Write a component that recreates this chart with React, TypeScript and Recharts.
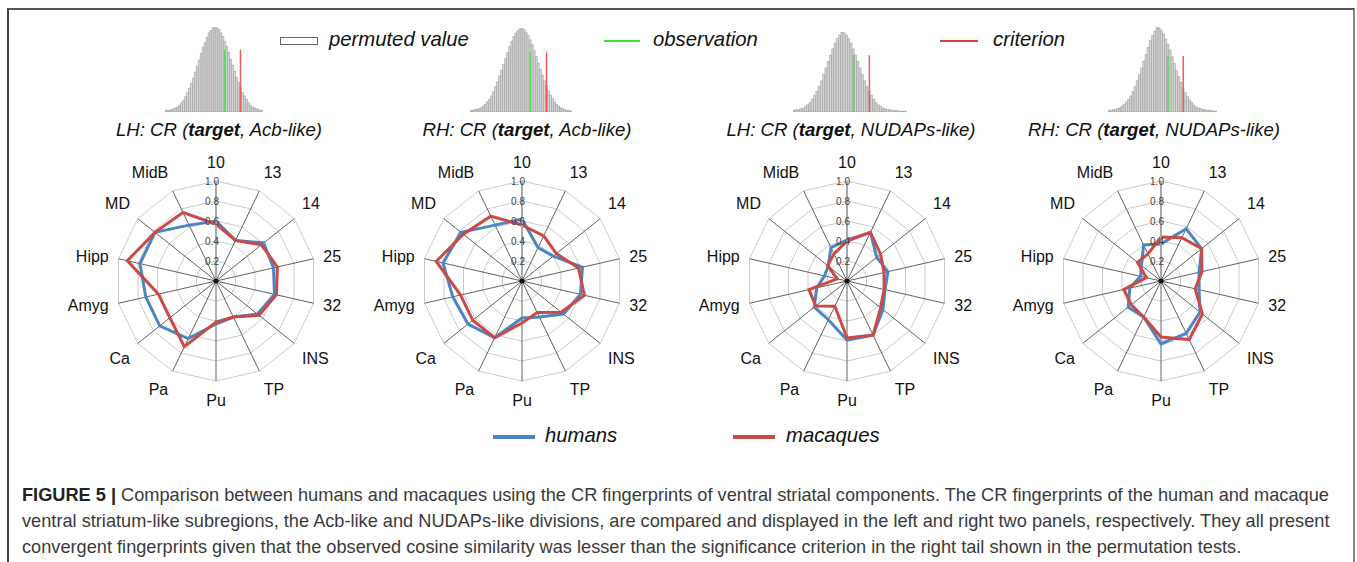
import React from "react";
import {
  RadarChart,
  Radar,
  PolarGrid,
  PolarAngleAxis,
  PolarRadiusAxis,
  BarChart,
  Bar,
  XAxis,
  YAxis,
  ReferenceLine,
} from "recharts";

// ---- data ----
const regions = ["10", "13", "14", "25", "32", "INS", "TP", "Pu", "Pa", "Ca", "Amyg", "Hipp", "MD", "MidB"];

const lhAcbHumans = [0.6, 0.45, 0.61, 0.59, 0.6, 0.53, 0.4, 0.43, 0.64, 0.72, 0.72, 0.78, 0.78, 0.62];
const lhAcbMacaques = [0.57, 0.45, 0.58, 0.63, 0.62, 0.55, 0.4, 0.41, 0.73, 0.59, 0.59, 0.91, 0.78, 0.76];
const rhAcbHumans = [0.62, 0.37, 0.4, 0.62, 0.6, 0.53, 0.4, 0.37, 0.63, 0.69, 0.71, 0.81, 0.78, 0.62];
const rhAcbMacaques = [0.56, 0.5, 0.44, 0.58, 0.64, 0.5, 0.35, 0.42, 0.63, 0.63, 0.63, 0.88, 0.75, 0.72];
const lhNudHumans = [0.41, 0.54, 0.38, 0.42, 0.39, 0.46, 0.6, 0.59, 0.43, 0.42, 0.31, 0.23, 0.24, 0.37];
const lhNudMacaques = [0.4, 0.54, 0.43, 0.38, 0.38, 0.43, 0.6, 0.57, 0.28, 0.4, 0.39, 0.1, 0.25, 0.3];
const rhNudHumans = [0.37, 0.58, 0.52, 0.39, 0.39, 0.5, 0.58, 0.63, 0.4, 0.42, 0.32, 0.21, 0.25, 0.4];
const rhNudMacaques = [0.44, 0.48, 0.52, 0.42, 0.35, 0.53, 0.65, 0.56, 0.4, 0.38, 0.38, 0.15, 0.3, 0.3];

// permutation histograms (relative counts, peak = 100)
const permLhAcb = [2, 2, 2, 3, 4, 5, 6, 8, 11, 14, 18, 23, 28, 34, 40, 47, 54, 61, 69, 76, 82, 88, 93, 96, 99, 100, 99, 97, 93, 89, 83, 77, 70, 62, 55, 48, 41, 35, 29, 23, 19, 15, 11, 8, 6, 5, 4, 3, 2, 2];
const permRhAcb = [2, 2, 3, 3, 4, 5, 7, 9, 12, 15, 19, 24, 30, 36, 43, 50, 57, 64, 71, 78, 84, 90, 94, 97, 99, 100, 98, 95, 91, 86, 80, 73, 66, 58, 51, 44, 37, 31, 25, 20, 16, 12, 9, 7, 5, 4, 3, 2, 2, 1];
const permLhNud = [2, 3, 3, 4, 5, 7, 9, 12, 16, 21, 26, 32, 39, 47, 55, 63, 71, 79, 86, 92, 96, 100, 99, 96, 92, 86, 79, 71, 63, 55, 47, 39, 32, 26, 21, 16, 12, 9, 7, 5, 4, 3, 3, 2, 2, 2, 1, 1, 1, 1];
const permRhNud = [2, 2, 3, 3, 4, 5, 7, 9, 12, 15, 19, 24, 30, 37, 44, 52, 60, 68, 76, 84, 90, 95, 100, 99, 96, 92, 86, 80, 73, 65, 57, 49, 42, 35, 29, 23, 18, 14, 11, 8, 6, 5, 4, 3, 3, 2, 2, 2, 1, 1];
const observationBins = [30, 29, 26, 27];
const criterionBins = [38, 37, 33, 34];
const markerHeights = [73, 71, 71, 66];

const radiusTicks = [0, 0.2, 0.4, 0.6, 0.8, 1.0];

const BLUE = "#4a85c4";
const RED = "#cc4a45";
const FONT = "'Liberation Sans', Arial, sans-serif";

// chart-internal centre of each radar
const RC_X = 160;
const RC_Y = 150;
const OUTER = 100;

function AngleTick(props: any) {
  const { x, y, payload } = props;
  const dx = x - RC_X;
  const dy = y - RC_Y;
  const len = Math.hypot(dx, dy) || 1;
  const ux = dx / len;
  const uy = dy / len;
  const tx = RC_X + ux * 110;
  const ty = RC_Y + uy * 110 + (Math.abs(uy) > 0.4 ? 9 * Math.sign(uy) : 0);
  const anchor = ux > 0.15 ? "start" : ux < -0.15 ? "end" : "middle";
  return (
    <text x={tx} y={ty} textAnchor={anchor} dominantBaseline="central" fontSize={16} fill="#111" fontFamily={FONT}>
      {payload.value}
    </text>
  );
}

function RadiusTick(props: any) {
  const { x, y, payload } = props;
  if (payload.value === 0) {
    return <circle cx={x} cy={y} r={2.5} fill="#111" />;
  }
  return (
    <text x={x - 4} y={y} textAnchor="middle" dominantBaseline="central" fontSize={10} fill="#444" fontFamily={FONT}>
      {Number(payload.value).toFixed(1)}
    </text>
  );
}

function Fingerprint({ left, humans, macaques }: { left: number; humans: number[]; macaques: number[] }) {
  const data = regions.map((r, i) => ({ region: r, humans: humans[i], macaques: macaques[i] }));
  return (
    <div style={{ position: "absolute", left: left - RC_X, top: 280.7 - RC_Y }}>
      <RadarChart width={320} height={300} cx={RC_X} cy={RC_Y} outerRadius={OUTER} data={data} startAngle={90} endAngle={-270}>
        <PolarGrid
          gridType="polygon"
          radialLines={false}
          polarRadius={radiusTicks.slice(1).map((t) => t * OUTER)}
          stroke="#cbcbcb"
          strokeWidth={1}
        />
        <PolarGrid gridType="polygon" polarRadius={[]} stroke="#505050" strokeWidth={0.9} />
        <PolarAngleAxis dataKey="region" tick={AngleTick} tickLine={false} axisLine={false} />
        <PolarRadiusAxis
          radiusAxisId="lower"
          angle={-90}
          domain={[0, 1]}
          tick={false}
          tickLine={false}
          axisLine={{ stroke: "#a8a8a8", strokeWidth: 2 }}
        />
        <PolarRadiusAxis
          angle={90}
          type="number"
          domain={[0, 1]}
          ticks={radiusTicks}
          tickCount={radiusTicks.length}
          tick={RadiusTick}
          tickLine={false}
          axisLine={{ stroke: "#a8a8a8", strokeWidth: 2 }}
        />
        <Radar dataKey="humans" stroke={BLUE} strokeWidth={3} fill="none" fillOpacity={0} dot={false} isAnimationActive={false} />
        <Radar dataKey="macaques" stroke={RED} strokeWidth={3} fill="none" fillOpacity={0} dot={false} isAnimationActive={false} />
      </RadarChart>
    </div>
  );
}

function Histogram({
  left,
  top,
  width,
  height,
  counts,
  obs,
  crit,
  mark,
}: {
  left: number;
  top: number;
  width: number;
  height: number;
  counts: number[];
  obs: number;
  crit: number;
  mark: number;
}) {
  const data = counts.map((c, i) => ({ bin: i, count: c }));
  return (
    <div style={{ position: "absolute", left, top }}>
      <BarChart width={width} height={height} data={data} margin={{ top: 0, right: 0, bottom: 0, left: 0 }} barCategoryGap={0} barGap={0}>
        <XAxis dataKey="bin" hide />
        <YAxis hide domain={[0, 100]} />
        <Bar dataKey="count" fill="#dadada" stroke="#8c8c8c" strokeWidth={0.5} isAnimationActive={false} />
        <ReferenceLine segment={[{ x: obs, y: 0 }, { x: obs, y: mark }]} stroke="#55dd55" strokeWidth={1.5} />
        <ReferenceLine segment={[{ x: crit, y: 0 }, { x: crit, y: mark }]} stroke="#f05a5a" strokeWidth={1.5} />
      </BarChart>
    </div>
  );
}

const titleStyle: React.CSSProperties = {
  position: "absolute",
  top: 119,
  fontFamily: FONT,
  fontStyle: "italic",
  fontSize: 18.6,
  color: "#111",
  whiteSpace: "nowrap",
  transform: "translateX(-50%)",
};

const legendText: React.CSSProperties = {
  position: "absolute",
  fontFamily: FONT,
  fontStyle: "italic",
  fontSize: 20.3,
  color: "#111",
  whiteSpace: "nowrap",
};

function Title({ x, hemi, div }: { x: number; hemi: string; div: string }) {
  return (
    <div style={{ ...titleStyle, left: x }}>
      {hemi}: CR (<b>target</b>, {div})
    </div>
  );
}

export default function App() {
  return (
    <div style={{ position: "absolute", left: 0, top: 0, width: 1357, height: 562, background: "#fff", overflow: "hidden" }}>
      {/* frame */}
      <div
        style={{
          position: "absolute",
          left: 7,
          top: 8,
          width: 1344,
          height: 600,
          borderTop: "2px solid #555",
          borderLeft: "2px solid #444",
          borderRight: "2px solid #888",
        }}
      />

      {/* top legend */}
      <div style={{ position: "absolute", left: 280, top: 37, width: 36, height: 6, border: "1px solid #666", background: "#fff" }} />
      <div style={{ ...legendText, left: 329, top: 28 }}>permuted value</div>
      <div style={{ position: "absolute", left: 604, top: 40, width: 36, height: 1.5, background: "#44dd44" }} />
      <div style={{ ...legendText, left: 653, top: 28 }}>observation</div>
      <div style={{ position: "absolute", left: 940, top: 40, width: 38, height: 1.5, background: "#e83c3c" }} />
      <div style={{ ...legendText, left: 993, top: 28 }}>criterion</div>

      {/* permutation histograms */}
      <Histogram left={165} top={27} width={98} height={85} counts={permLhAcb} obs={observationBins[0]} crit={criterionBins[0]} mark={markerHeights[0]} />
      <Histogram left={470} top={28} width={102} height={84} counts={permRhAcb} obs={observationBins[1]} crit={criterionBins[1]} mark={markerHeights[1]} />
      <Histogram left={793} top={32} width={114} height={80} counts={permLhNud} obs={observationBins[2]} crit={criterionBins[2]} mark={markerHeights[2]} />
      <Histogram left={1108} top={27} width={109} height={85} counts={permRhNud} obs={observationBins[3]} crit={criterionBins[3]} mark={markerHeights[3]} />

      {/* titles */}
      <Title x={219} hemi="LH" div="Acb-like" />
      <Title x={527} hemi="RH" div="Acb-like" />
      <Title x={851} hemi="LH" div="NUDAPs-like" />
      <Title x={1154} hemi="RH" div="NUDAPs-like" />

      {/* radar fingerprints */}
      <Fingerprint left={215.7} humans={lhAcbHumans} macaques={lhAcbMacaques} />
      <Fingerprint left={522.3} humans={rhAcbHumans} macaques={rhAcbMacaques} />
      <Fingerprint left={846.7} humans={lhNudHumans} macaques={lhNudMacaques} />
      <Fingerprint left={1161} humans={rhNudHumans} macaques={rhNudMacaques} />

      {/* bottom legend */}
      <div style={{ position: "absolute", left: 493, top: 435, width: 42, height: 3.5, background: BLUE }} />
      <div style={{ ...legendText, left: 545, top: 424 }}>humans</div>
      <div style={{ position: "absolute", left: 733, top: 435, width: 42, height: 3.5, background: RED }} />
      <div style={{ ...legendText, left: 786, top: 424 }}>macaques</div>

      {/* caption */}
      <div
        style={{
          position: "absolute",
          left: 22,
          top: 482,
          fontFamily: FONT,
          fontSize: 18.2,
          lineHeight: "26px",
          color: "#3a3a3a",
          whiteSpace: "nowrap",
        }}
      >
        <div>
          <b style={{ color: "#222" }}>FIGURE 5 |</b> Comparison between humans and macaques using the CR fingerprints of ventral striatal
          components. The CR fingerprints of the human and macaque
        </div>
        <div>
          ventral striatum-like subregions, the Acb-like and NUDAPs-like divisions, are compared and displayed in the left and right two panels,
          respectively. They all present
        </div>
        <div>
          convergent fingerprints given that the observed cosine similarity was lesser than the significance criterion in the right tail shown
          in the permutation tests.
        </div>
      </div>
    </div>
  );
}
